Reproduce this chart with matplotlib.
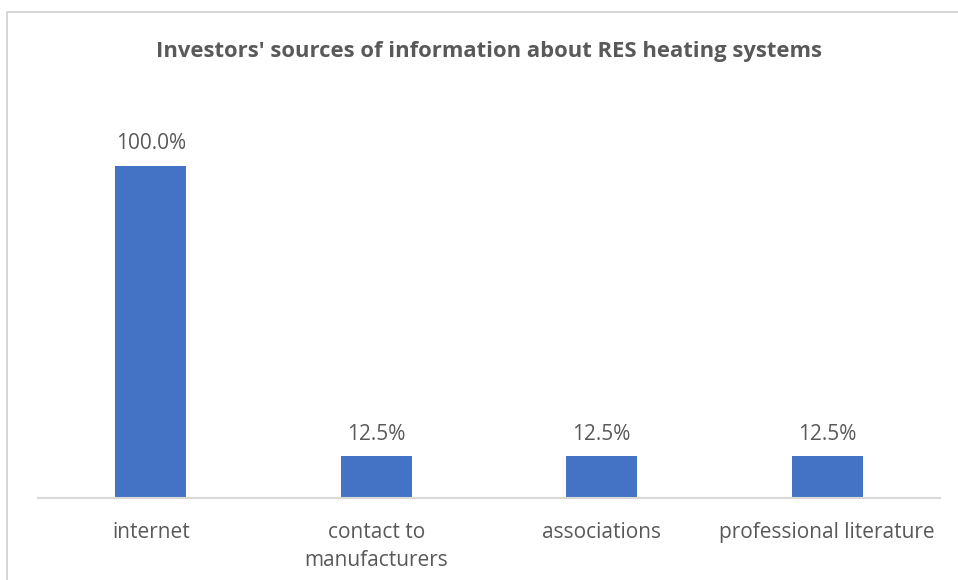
import matplotlib
matplotlib.use("Agg")
import matplotlib.pyplot as plt
from matplotlib.patches import Rectangle

categories = ["internet", "contact to\nmanufacturers", "associations", "professional literature"]
shares = [100.0, 12.5, 12.5, 12.5]

bar_color = "#4472C4"
text_color = "#595959"
axis_color = "#D9D9D9"

plt.rcParams["font.family"] = ["Open Sans", "DejaVu Sans"]

fig = plt.figure(figsize=(9.58, 5.8), dpi=100)

# chart frame
fig.patches.append(Rectangle((7 / 958, -0.05), 1.1, 1 - 12 / 580 + 0.05,
                             transform=fig.transFigure, fill=False,
                             edgecolor="#D0D0D0", linewidth=1.2))

ax = fig.add_axes([38 / 958, 1 - 498 / 580, 902 / 958, (498 - 99) / 580])
x = range(len(categories))
bars = ax.bar(x, shares, width=0.315, color=bar_color)
ax.set_xlim(-0.5, len(categories) - 0.5)
ax.set_ylim(0, 120)

for b, v in zip(bars, shares):
    ax.annotate(f"{v:.1f}%", (b.get_x() + b.get_width() / 2, v),
                xytext=(0, 8), textcoords="offset points",
                ha="center", va="bottom", fontsize=15, color=text_color)

ax.set_xticks(list(x))
ax.set_xticklabels(categories, fontsize=15, color=text_color, linespacing=1.45)
ax.tick_params(axis="x", length=0, pad=17)
ax.set_yticks([])
for s in ["top", "right", "left"]:
    ax.spines[s].set_visible(False)
ax.spines["bottom"].set_color(axis_color)
ax.spines["bottom"].set_linewidth(1.5)

fig.text(489 / 958, 1 - 52 / 580, "Investors' sources of information about RES heating systems",
         ha="center", va="center", fontsize=15.8, fontweight="bold", color=text_color)

fig.savefig("out.png", dpi=100)
